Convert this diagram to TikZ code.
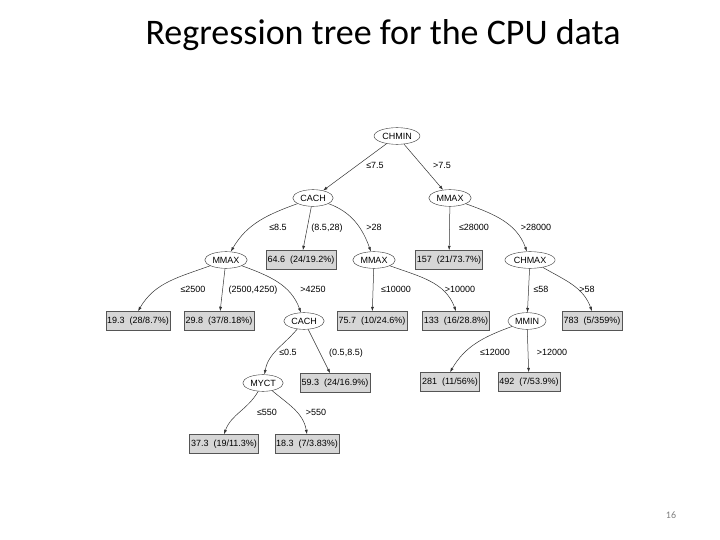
\documentclass[tikz,border=0pt]{standalone}
\usepackage{fontspec}
\setmainfont{Liberation Sans}
\newfontfamily\titlefont{Carlito}
\usetikzlibrary{shapes.geometric, arrows.meta}

\definecolor{edgegray}{HTML}{333333}
\definecolor{boxfill}{HTML}{D6D6D6}
\definecolor{boxline}{HTML}{555555}

\tikzset{
  test/.style={ellipse, draw=edgegray, fill=white, inner xsep=1.5pt, inner ysep=2.6pt,
    font=\fontsize{9}{10}\selectfont, text height=6.6pt, text depth=0pt},
  leaf/.style={rectangle, draw=boxline, fill=boxfill, inner xsep=1.5pt, minimum height=19pt,
    font=\fontsize{9}{10}\selectfont, text height=6.6pt, text depth=1.8pt},
  edge/.style={draw=edgegray, line width=0.5pt, -{Latex[length=4.5pt,width=3pt]}},
  lbl/.style={font=\fontsize{9}{10}\selectfont, text=black, inner sep=1pt,
    text height=6.6pt, text depth=1.8pt}
}

\begin{document}
\begin{tikzpicture}[x=1pt, y=-1pt]
  \useasboundingbox (0,0) rectangle (720,540);

  % Title and page number
  \node[anchor=base] (title) at (383,45) {\titlefont\fontsize{36}{40}\selectfont Regression tree for the CPU data};
  \node[text=gray] (page) at (671,515) {\titlefont\fontsize{10}{12}\selectfont 16};

  % Tests
  \node[test] (chmin) at (397,136) {CHMIN};
  \node[test] (cach) at (313,198) {CACH};
  \node[test] (mmaxr) at (450,198) {MMAX};
  \node[test] (mmaxl) at (226,260) {MMAX};
  \node[test] (mmaxm) at (374,260) {MMAX};
  \node[test] (chmax) at (530,260) {CHMAX};
  \node[test] (cachl) at (304,321) {CACH};
  \node[test] (mmin) at (527,321) {MMIN};
  \node[test] (myct) at (263,383) {MYCT};

  % Leaves
  \node[leaf] (l646) at (301,260) {64.6\ \ (24/19.2\%)};
  \node[leaf] (l157) at (449,260) {157\ \ (21/73.7\%)};
  \node[leaf] (l193) at (138,321) {19.3\ \ (28/8.7\%)};
  \node[leaf] (l298) at (219,321) {29.8\ \ (37/8.18\%)};
  \node[leaf] (l757) at (372,321) {75.7\ \ (10/24.6\%)};
  \node[leaf] (l133) at (456,321) {133\ \ (16/28.8\%)};
  \node[leaf] (l783) at (592,321) {783\ \ (5/359\%)};
  \node[leaf] (l593) at (335,383) {59.3\ \ (24/16.9\%)};
  \node[leaf] (l281) at (450,382) {281\ \ (11/56\%)};
  \node[leaf] (l492) at (529,382) {492\ \ (7/53.9\%)};
  \node[leaf] (l373) at (224,444) {37.3\ \ (19/11.3\%)};
  \node[leaf] (l183) at (307,444) {18.3\ \ (7/3.83\%)};

  % Branches
  \draw[edge] (chmin) -- (cach) node[lbl] at (375,166) {≤7.5};
  \draw[edge] (chmin) -- (mmaxr) node[lbl] at (442,166) {>7.5};

  \draw[edge] (cach) to[out=200, in=60] (mmaxl) node[lbl] at (278,228) {≤8.5};
  \draw[edge] (cach) -- (l646) node[lbl] at (327,228) {(8.5,28)};
  \draw[edge] (cach) to[out=-20, in=110] (mmaxm) node[lbl] at (374,228) {>28};

  \draw[edge] (mmaxr) -- (l157) node[lbl] at (474,228) {≤28000};
  \draw[edge] (mmaxr) to[out=-20, in=110] (chmax) node[lbl] at (536,228) {>28000};

  \draw[edge] (mmaxl) to[out=200, in=60] (l193.north) node[lbl] at (193,290) {≤2500};
  \draw[edge] (mmaxl) -- (l298) node[lbl] at (253,290) {(2500,4250)};
  \draw[edge] (mmaxl) to[out=-20, in=110] (cachl) node[lbl] at (313,290) {>4250};

  \draw[edge] (mmaxm) -- (l757) node[lbl] at (396,290) {≤10000};
  \draw[edge] (mmaxm) to[out=-20, in=110] (l133.north) node[lbl] at (460,290) {>10000};

  \draw[edge] (chmax) -- (mmin) node[lbl] at (541,290) {≤58};
  \draw[edge] (chmax) to[out=-30, in=110] (l783.north) node[lbl] at (587,290) {>58};

  \draw[edge] (cachl) to[out=230, in=80] (myct) node[lbl] at (288,353) {≤0.5};
  \draw[edge] (cachl) -- (l593) node[lbl] at (346,353) {(0.5,8.5)};

  \draw[edge] (mmin) to[out=200, in=60] (l281.north) node[lbl] at (495,353) {≤12000};
  \draw[edge] (mmin) -- (l492) node[lbl] at (552,353) {>12000};

  \draw[edge] (myct) to[out=240, in=70] (l373.north) node[lbl] at (267,413) {≤550};
  \draw[edge] (myct) to[out=-40, in=100] (l183.north) node[lbl] at (316,413) {>550};
\end{tikzpicture}
\end{document}
